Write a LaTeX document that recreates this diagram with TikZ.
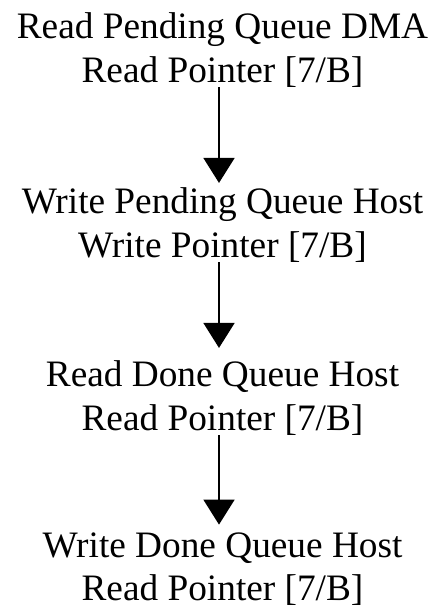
\documentclass[tikz,border=0pt]{standalone}
\usepackage{fontspec}
\setmainfont{Liberation Serif}
\usetikzlibrary{arrows.meta}
\tikzset{
  label/.style={align=center, inner sep=0pt, anchor=base, font=\fontsize{37.3}{44}\selectfont},
  arr/.style={line width=1.8pt, -{Triangle[length=25pt,width=31pt]}}
}
\begin{document}
\begin{tikzpicture}[x=1pt,y=-1pt]
\useasboundingbox[fill=white] (0,0) rectangle (446,610);
\node[label] (a) at (222.5,82) {Read Pending Queue DMA\\Read Pointer [7/B]};
\node[label] (b) at (222.5,257) {Write Pending Queue Host\\Write Pointer [7/B]};
\node[label] (c) at (222.5,430) {Read Done Queue Host\\Read Pointer [7/B]};
\node[label,font=\fontsize{37.3}{42.5}\selectfont] (d) at (222.5,600) {Write Done Queue Host\\Read Pointer [7/B]};
\coordinate (lx) at (219,0);
\draw[arr] (a.south -| lx) -- ([yshift=4pt]b.north -| lx);
\draw[arr] (b.south -| lx) -- ([yshift=12pt]c.north -| lx);
\draw[arr] (c.south -| lx) -- ([yshift=8pt]d.north -| lx);
\end{tikzpicture}
\end{document}
